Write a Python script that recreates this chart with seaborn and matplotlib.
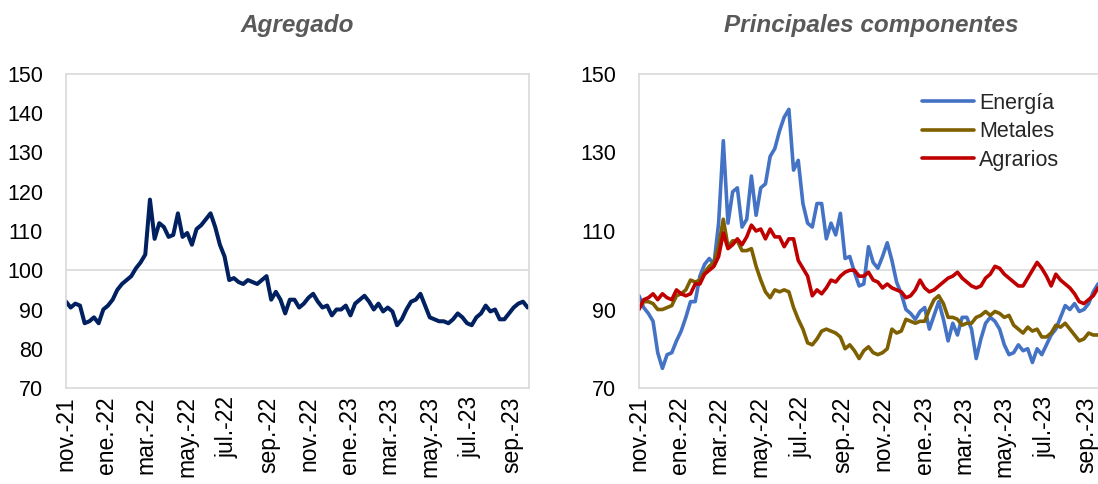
import pandas as pd
import matplotlib
matplotlib.use("Agg")
import matplotlib.pyplot as plt
import seaborn as sns

# -----------------------------
# Data (weekly readings, index 100 = base)
# -----------------------------
dates = pd.date_range("2021-11-01", periods=100, freq="7D")

agregado = [92, 90.5, 91.5, 91, 86.5, 87, 88, 86.5, 90, 91,
            92.5, 95, 96.5, 97.5, 98.5, 100.5, 102, 104, 118, 108,
            112, 111, 108.5, 109, 114.5, 108.5, 109.5, 106.5, 110.5, 111.5,
            113, 114.5, 111, 106.5, 103.5, 97.5, 98, 97, 96.5, 97.5,
            97, 96.5, 97.5, 98.5, 92.5, 94.5, 92.5, 89, 92.5, 92.5,
            90.5, 91.5, 93, 94, 92, 90.5, 91, 88.5, 90, 90,
            91, 88.5, 91.5, 92.5, 93.5, 92, 90, 91.5, 89.5, 90.5,
            89.5, 86, 87.5, 90, 92, 92.5, 94, 91, 88, 87.5,
            87, 87, 86.5, 87.5, 89, 88, 86.5, 86, 88, 89,
            91, 89.5, 90, 87.5, 87.5, 89, 90.5, 91.5, 92, 90.5]

energia = [93.5, 90.5, 89, 87, 79, 75, 78.5, 79, 82, 84.5,
           88, 92, 92, 98.5, 101.5, 103, 101.5, 112, 133, 112,
           120, 121, 111, 113, 124, 114, 121, 122, 129, 131,
           135.5, 139, 141, 125.5, 128, 117, 112, 111, 117, 117,
           108, 112, 109, 114.5, 103, 103.5, 99.5, 96, 96.5, 106,
           102, 100.5, 103.5, 107, 102.5, 97, 94, 90, 89, 87.5,
           89.5, 90.5, 85, 88.5, 92, 87.5, 82, 86.5, 83.5, 88,
           88, 85, 77.5, 82.5, 86.5, 88, 87, 85, 81, 78.5,
           79, 81, 79.5, 80, 76.5, 80, 78.5, 81, 83.5, 85,
           88, 91, 90, 91.5, 89.5, 90, 91.5, 94.5, 96.5, 97]

metales = [90.5, 92, 92, 91.5, 90, 90, 90.5, 91, 93.5, 94,
           95, 97.5, 97, 97.5, 99.5, 101, 102, 106, 113, 106,
           107.5, 107.5, 105, 105, 105.5, 101, 97.5, 94.5, 93, 95,
           94.5, 95, 94.5, 90.5, 87.5, 85, 81.5, 81, 82.5, 84.5,
           85, 84.5, 84, 83, 80, 81, 79.5, 77.5, 79.5, 80.5,
           79, 78.5, 79, 80, 85, 84, 84.5, 87.5, 87, 86.5,
           87, 87, 90, 92.5, 93.5, 91.5, 88, 88, 87.5, 86,
           86.5, 86.5, 88, 88.5, 89.5, 88.5, 89.5, 89, 88, 88.5,
           86, 85, 84, 85.5, 84.5, 85, 83, 83, 84, 86,
           85.5, 86.5, 85, 83.5, 82, 82.5, 84, 83.5, 83.5, 84]

agrarios = [90, 92.5, 93, 94, 92.5, 94, 93, 92.5, 95, 94,
            93.5, 94, 96.5, 96.5, 99, 100, 101, 103.5, 109.5, 105.5,
            106.5, 108, 106.5, 108.5, 111.5, 110, 110.5, 108, 110.5, 108.5,
            108.5, 106, 108, 108, 102.5, 100.5, 98.5, 93.5, 95, 94,
            95.5, 97.5, 97, 98.5, 99.5, 100, 100, 98.5, 98.5, 99.5,
            97.5, 97, 95.5, 96.5, 95.5, 95, 94.5, 93, 93.5, 95,
            97.5, 95.5, 94.5, 95, 96, 97, 98, 98.5, 99.5, 98,
            97, 96, 95.5, 96, 98, 99, 101, 100.5, 99, 98,
            97, 96, 96, 98, 100, 102, 100.5, 98.5, 96, 99,
            97.5, 96.5, 95.5, 94, 92, 91.5, 92.5, 93.5, 95.5, 94.5]

tick_dates = pd.date_range("2021-11-01", "2023-09-01", freq="2MS")
tick_labels = ["nov.-21", "ene.-22", "mar.-22", "may.-22", "jul.-22", "sep.-22",
               "nov.-22", "ene.-23", "mar.-23", "may.-23", "jul.-23", "sep.-23"]

# -----------------------------
# Basic Settings
# -----------------------------
sns.set_style("white")
plt.rcParams["font.family"] = ["Liberation Sans", "DejaVu Sans"]

GRAY = "#D9D9D9"
TITLE_GRAY = "#595959"
FS = 15.5

fig = plt.figure(figsize=(10.98, 4.84), dpi=100)
ax1 = fig.add_axes([66 / 1098, 96 / 484, 463 / 1098, 314 / 484])
ax2 = fig.add_axes([639 / 1098, 96 / 484, 465 / 1098, 314 / 484])


def style_axis(ax, title, yticks):
    ax.set_xlim(pd.Timestamp("2021-11-01"), pd.Timestamp("2023-09-27"))
    ax.set_ylim(70, 150)
    ax.set_yticks(yticks)
    ax.set_xticks(tick_dates)
    ax.set_xticklabels(tick_labels, rotation=90)
    ax.axhline(100, color=GRAY, lw=1.2, zorder=0)
    for s in ax.spines.values():
        s.set_color(GRAY)
        s.set_linewidth(1.2)
    ax.tick_params(axis="y", length=0, pad=16.5, labelsize=FS, labelcolor="black")
    ax.tick_params(axis="x", length=0, pad=6, labelsize=16.5, labelcolor="black")
    ax.set_xlabel("")
    ax.set_ylabel("")
    ax.set_title(title, fontsize=17.5, fontweight="bold", fontstyle="italic",
                 color=TITLE_GRAY, pad=30)


# -----------------------------
# 1. Agregado
# -----------------------------
sns.lineplot(x=dates, y=agregado, ax=ax1, color="#002060", lw=2.9)
style_axis(ax1, "Agregado", list(range(70, 151, 10)))

# -----------------------------
# 2. Principales componentes
# -----------------------------
sns.lineplot(x=dates, y=energia, ax=ax2, color="#4472C4", lw=2.6, label="Energía")
sns.lineplot(x=dates, y=metales, ax=ax2, color="#7F6000", lw=2.6, label="Metales")
sns.lineplot(x=dates, y=agrarios, ax=ax2, color="#C00000", lw=2.6, label="Agrarios")
style_axis(ax2, "Principales componentes", list(range(70, 151, 20)))
ax2.legend(loc="upper left", bbox_to_anchor=((922 - 639) / 465, (388 - 93) / 314),
           frameon=False, fontsize=FS, handlelength=2.4, handletextpad=0.25,
           labelspacing=0.34, borderaxespad=0, borderpad=0)

fig.savefig("out.png", dpi=100)
